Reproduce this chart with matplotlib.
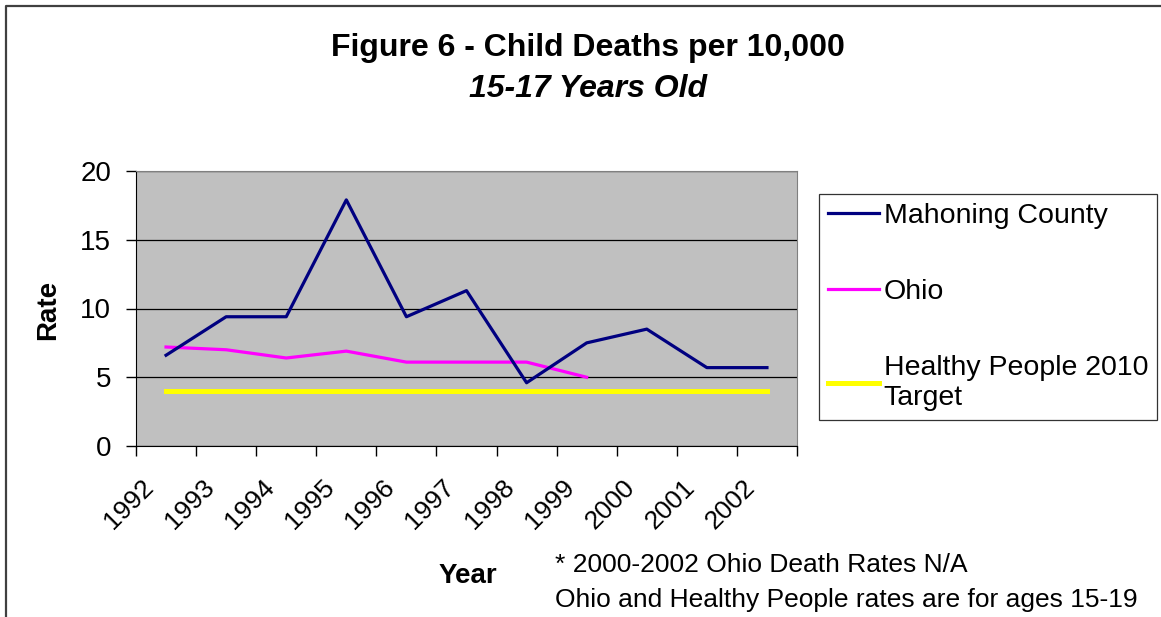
import numpy as np
import matplotlib
matplotlib.use("Agg")
import matplotlib.pyplot as plt
from matplotlib.lines import Line2D
from matplotlib.transforms import ScaledTranslation

plt.rcParams['font.family'] = ['Liberation Sans', 'DejaVu Sans']

# data
years = ['1992', '1993', '1994', '1995', '1996', '1997', '1998', '1999', '2000', '2001', '2002']
mahoning = [6.6, 9.4, 9.4, 17.9, 9.4, 11.3, 4.6, 7.5, 8.5, 5.7, 5.7]
ohio = [7.2, 7.0, 6.4, 6.9, 6.1, 6.1, 6.1, 5.0, np.nan, np.nan, np.nan]
target = [4.0] * 11
series_names = ['Mahoning County', 'Ohio', 'Healthy People 2010\nTarget']

W, H = 1161, 617
fig = plt.figure(figsize=(W / 100, H / 100), dpi=100)
ax = fig.add_axes([136 / W, 1 - 446 / H, 661 / W, 275 / H])
ax.set_facecolor('#C0C0C0')

x = np.arange(len(years))
ax.plot(x, mahoning, color='#000080', lw=2.3, label=series_names[0], zorder=4)
ax.plot(x, ohio, color='#FF00FF', lw=2.3, label=series_names[1], zorder=3)
ax.plot(x, target, color='#FFFF00', lw=3.6, label=series_names[2], zorder=2)

ax.set_xlim(-0.5, len(years) - 0.5)
ax.set_ylim(0, 20)
ax.set_yticks([0, 5, 10, 15, 20])
ax.yaxis.grid(True, color='black', lw=0.9)
ax.set_axisbelow(True)
ax.tick_params(axis='y', direction='out', length=7, width=1, labelsize=20, pad=11)

# category labels centered, tick marks on boundaries
ax.set_xticks(x)
ax.set_xticks(np.arange(-0.5, len(years)), minor=True)
ax.tick_params(axis='x', which='major', length=0, pad=27)
ax.tick_params(axis='x', which='minor', direction='out', length=7, width=1)
ax.set_xticklabels(years, rotation=45, ha='right', va='center',
                   rotation_mode='anchor', fontsize=19)
for lbl in ax.get_xticklabels():
    lbl.set_transform(lbl.get_transform() + ScaledTranslation(-0.16, 0, fig.dpi_scale_trans))

for s in ['top', 'right']:
    ax.spines[s].set_color('#808080')
for s in ['left', 'bottom']:
    ax.spines[s].set_color('black')

leg = fig.legend(loc='upper left', bbox_to_anchor=(819 / W, 1 - 194 / H),
                 fontsize=20.5, frameon=True, fancybox=False, edgecolor='black',
                 borderpad=0.32, labelspacing=1.75, handlelength=1.8,
                 handletextpad=0.15, borderaxespad=0)
leg.get_frame().set_linewidth(0.9)

fig.text(588 / W, 1 - 48 / H, 'Figure 6 - Child Deaths per 10,000',
         ha='center', va='center', fontsize=23, fontweight='bold')
fig.text(588 / W, 1 - 89 / H, '15-17 Years Old',
         ha='center', va='center', fontsize=23, fontweight='bold', style='italic')
fig.text(48 / W, 1 - 310 / H, 'Rate', rotation=90, ha='center', va='center',
         fontsize=20, fontweight='bold')
fig.text(468 / W, 1 - 576 / H, 'Year', ha='center', va='center',
         fontsize=20, fontweight='bold')
fig.text(555 / W, 1 - 565 / H, '* 2000-2002 Ohio Death Rates N/A',
         ha='left', va='center', fontsize=19)
fig.text(555 / W, 1 - 600 / H, 'Ohio and Healthy People rates are for ages 15-19',
         ha='left', va='center', fontsize=19)

# outer chart border (only left and top edges fall inside the picture)
fig.add_artist(Line2D([6 / W, 6 / W, 1.0], [0.0, 1 - 6 / H, 1 - 6 / H],
                      transform=fig.transFigure, color='#404040', lw=1.6))

fig.savefig('out.png', dpi=100)
